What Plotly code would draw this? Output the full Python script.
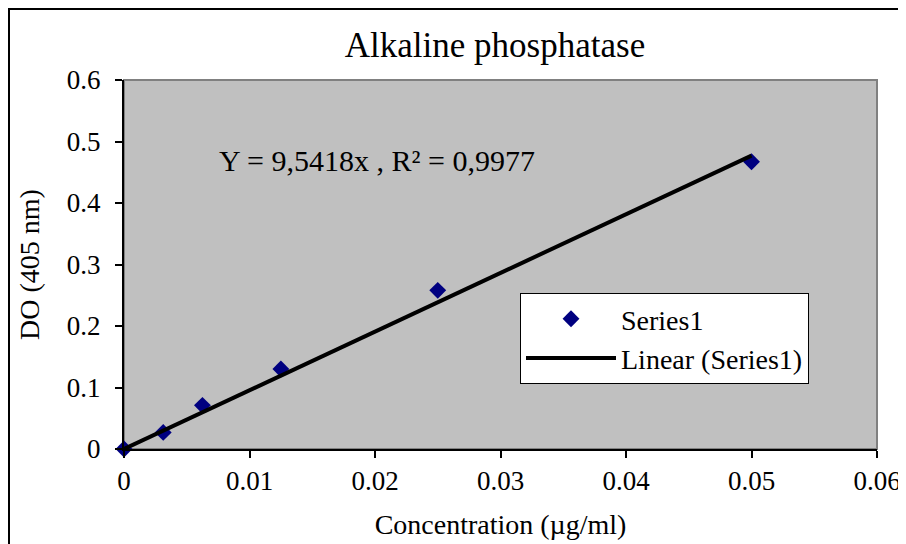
import plotly.graph_objects as go

conc = [0, 0.003125, 0.00625, 0.0125, 0.025, 0.05]
do405 = [0, 0.027, 0.071, 0.13, 0.258, 0.467]
slope = 9.5418
r2_label = "Y = 9,5418x , R² = 0,9977"
trend_x = [0, 0.05]
trend_y = [slope * v for v in trend_x]
xticks = [0, 0.01, 0.02, 0.03, 0.04, 0.05, 0.06]
xtick_text = ["0", "0.01", "0.02", "0.03", "0.04", "0.05", "0.06"]
yticks = [0, 0.1, 0.2, 0.3, 0.4, 0.5, 0.6]
ytick_text = ["0", "0.1", "0.2", "0.3", "0.4", "0.5", "0.6"]

FONT = "Liberation Serif, Times New Roman, serif"
W, H = 898, 536
L, T, R = 116, 72, 29
B = H - 441

fig = go.Figure()
fig.add_trace(go.Scatter(x=conc, y=do405, mode="markers", name="Series1",
                         marker=dict(symbol="diamond", size=13, color="#000080"),
                         cliponaxis=False))
fig.add_trace(go.Scatter(x=trend_x, y=trend_y, mode="lines", name="Linear (Series1)",
                         line=dict(color="black", width=4)))

fig.update_layout(
    width=W, height=H,
    margin=dict(l=L, r=R, t=T, b=B, autoexpand=False),
    paper_bgcolor="white", plot_bgcolor="#c0c0c0",
    font=dict(family=FONT, size=27, color="black"),
    title=dict(text="Alkaline phosphatase", x=495 / W - 8 / W, xanchor="center",
               y=1 - 37 / H, yanchor="middle", font=dict(size=35, family=FONT)),
    xaxis=dict(range=[0, 0.06], tickvals=xticks, ticktext=xtick_text, showgrid=False,
               zeroline=False, showline=True, linecolor="black", linewidth=2,
               ticks="outside", ticklen=7, tickcolor="black", tickwidth=1.5,
               tickfont=dict(size=27), fixedrange=True,
               title=dict(text="Concentration (µg/ml)", font=dict(size=28), standoff=19)),
    yaxis=dict(range=[0, 0.6], tickvals=yticks, ticktext=ytick_text, showgrid=False,
               zeroline=False, showline=True, linecolor="black", linewidth=2,
               ticks="outside", ticklen=7, tickcolor="black", tickwidth=1.5,
               ticklabelstandoff=9,
               tickfont=dict(size=27), fixedrange=True,
               title=dict(text="DO (405 nm)", font=dict(size=28), standoff=19)),
    legend=dict(x=(520 - 124) / 753, y=(449 - 293) / 369, xanchor="left", yanchor="top",
                bgcolor="white", bordercolor="black", borderwidth=1,
                font=dict(size=28), itemwidth=90, tracegroupgap=0),
    showlegend=True,
)

# plot area border (top/right gray)
fig.add_shape(type="rect", xref="paper", yref="paper", x0=0, y0=0, x1=1, y1=1,
              line=dict(color="#808080", width=2), layer="below")
# outer chart border
fig.add_shape(type="rect", xref="paper", yref="paper",
              x0=(1 - L) / 753, y0=-0.5, x1=1.2, y1=1 + (T - 1) / 369,
              line=dict(color="black", width=2))

fig.add_annotation(text=r2_label, xref="paper", yref="paper",
                   x=(217 - 124) / 753, y=(449 - 160) / 369, xanchor="left", yanchor="middle",
                   showarrow=False, font=dict(size=30, family=FONT))

fig.write_html("out.html")
